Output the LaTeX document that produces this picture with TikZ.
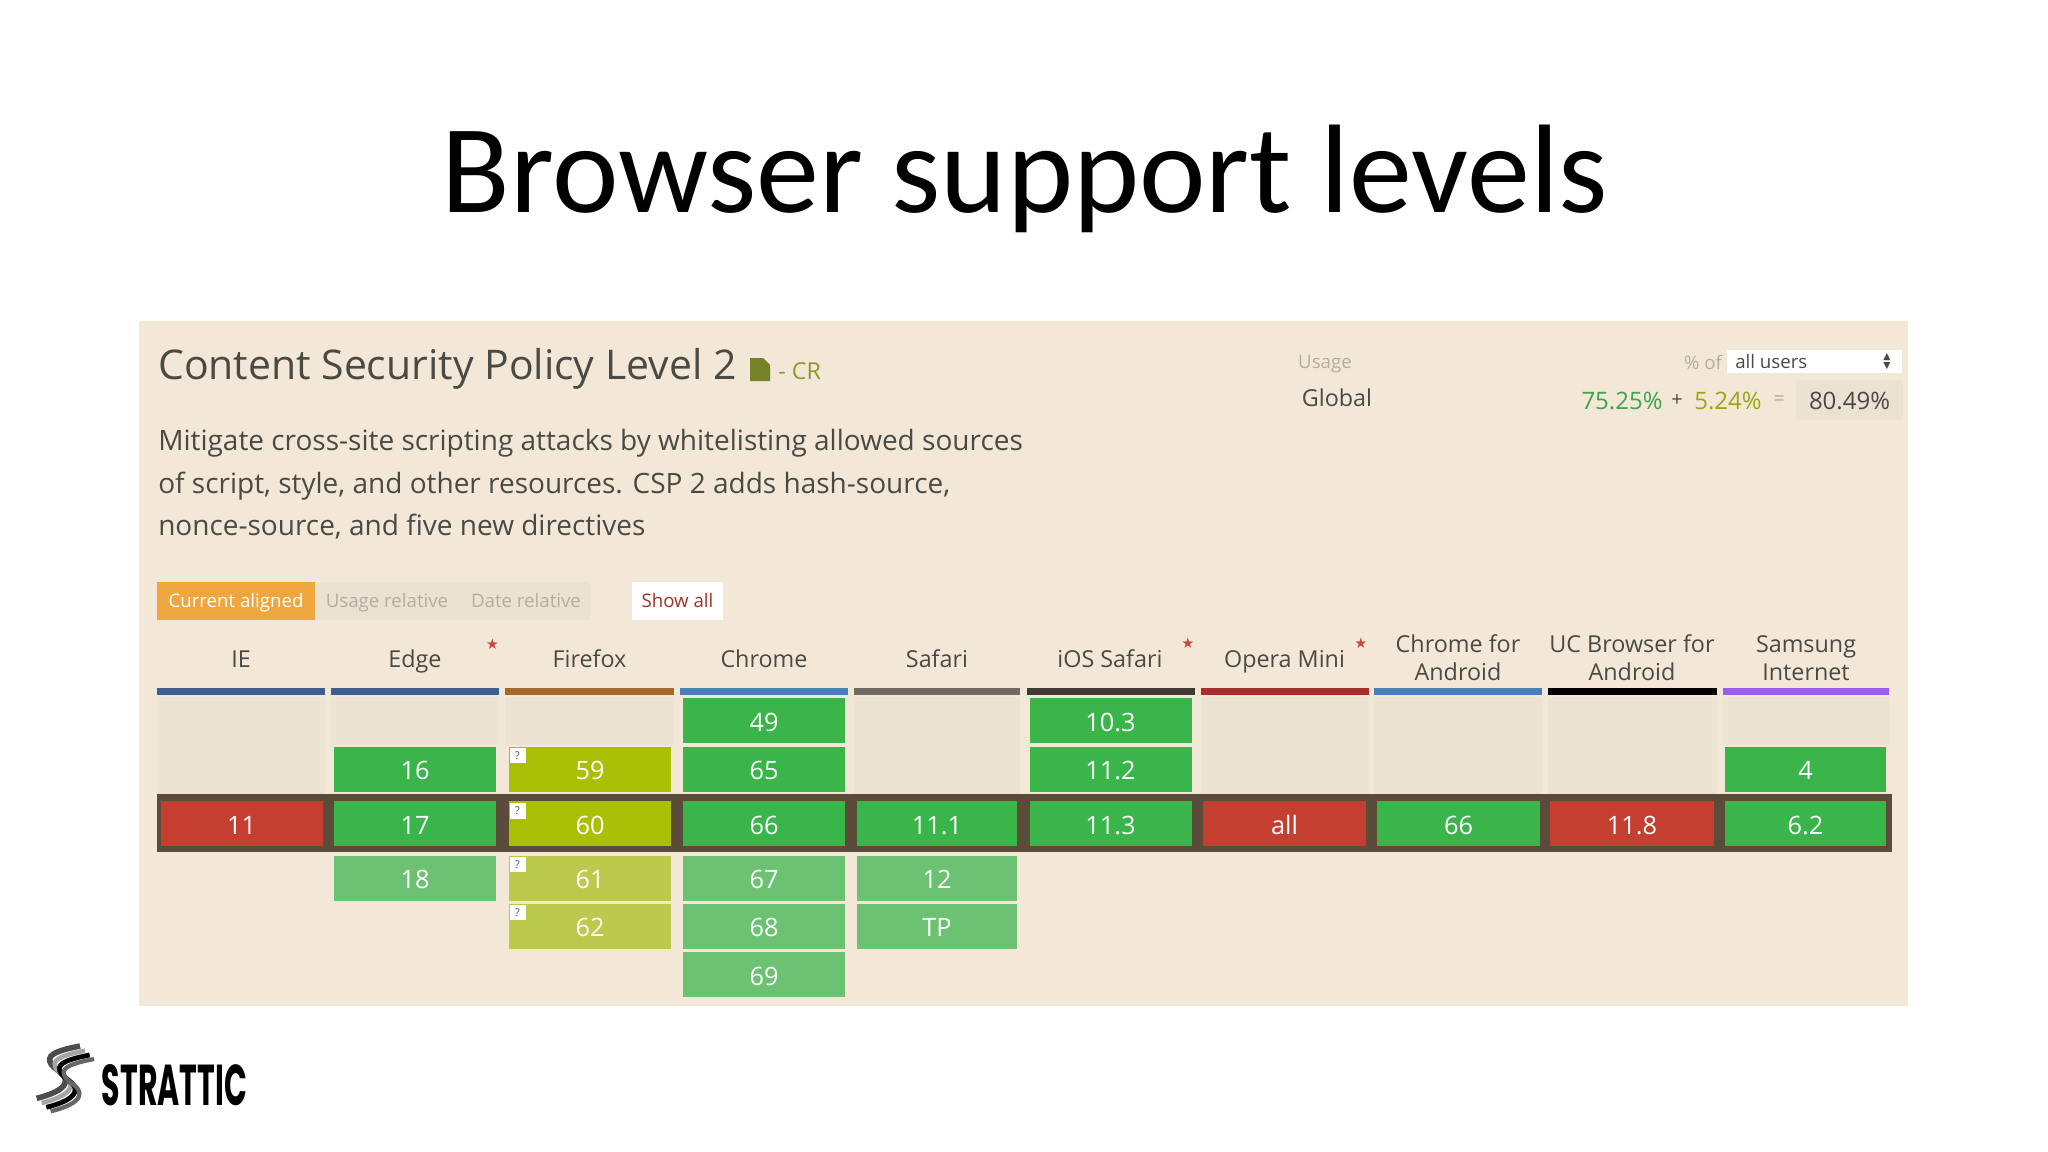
\documentclass[tikz,border=0pt]{standalone}
\usepackage{fontspec}
\setmainfont{Open Sans}
\newfontfamily\titlefont{Carlito}
\newfontfamily\logofont{Poppins}
\newfontfamily\symfont{DejaVu Sans}
\definecolor{panel}{HTML}{F3E8D8}
\definecolor{emptycell}{HTML}{EDE3D2}
\definecolor{band}{HTML}{5B4B3B}
\definecolor{yes}{HTML}{39B54A}
\definecolor{yeslight}{HTML}{6CC272}
\definecolor{part}{HTML}{A9C006}
\definecolor{partlight}{HTML}{BBCA4C}
\definecolor{nope}{HTML}{C53F30}
\definecolor{ink}{HTML}{4A4A44}
\definecolor{soft}{HTML}{B3ADA2}
\definecolor{orangebtn}{HTML}{EFA63F}
\definecolor{btnbg}{HTML}{EBE2D2}
\definecolor{star}{HTML}{C9493F}
\definecolor{crgreen}{HTML}{8A9A2E}
\definecolor{barie}{HTML}{3C5F8E}
\definecolor{barff}{HTML}{A5672A}
\definecolor{barch}{HTML}{4A7DBB}
\definecolor{barsf}{HTML}{6F6B62}
\definecolor{barios}{HTML}{3F3B34}
\definecolor{barop}{HTML}{A82E2E}
\definecolor{barsa}{HTML}{9A5CF0}
\tikzset{
  x=0.75pt,y=-0.75pt,
  box/.style={draw=none,inner sep=0pt,outer sep=0pt,minimum width=0.75pt*#1,minimum height=33.75pt,text=white,text height=16pt,text depth=0pt,font=\fontsize{19}{19}\selectfont},
  gapcell/.style={draw=none,fill=emptycell,inner sep=0pt,outer sep=0pt,minimum width=0.75pt*#1},
  bar/.style={draw=none,inner sep=0pt,outer sep=0pt,minimum height=5.25pt,minimum width=0.75pt*#1},
  note/.style={fill=white,inner sep=0pt,minimum width=12pt,minimum height=11.5pt,text=ink,font=\fontsize{8}{8}\selectfont},
  head/.style={inner sep=0pt,align=center,text=ink,font=\fontsize{17.5}{21}\selectfont},
  headone/.style={inner sep=0pt,anchor=base,text=ink,font=\fontsize{17.5}{21}\selectfont},
  starmark/.style={inner sep=0pt,text=star,font=\symfont\fontsize{11}{11}\selectfont},
  plain/.style={inner sep=0pt,anchor=base west},
  btn/.style={inner sep=0pt,outer sep=0pt,minimum height=29pt,text height=13pt,text depth=3pt,font=\fontsize{14}{14}\selectfont},
}
\newcommand{\sbase}{(240,78) .. controls (190,88) and (140,100) .. (150,125) .. controls (158,150) and (205,160) .. (195,190) .. controls (188,210) and (150,225) .. (110,235)}
\begin{document}
\begin{tikzpicture}
\useasboundingbox (0,0) rectangle (2048,1152);
\fill[white] (0,0) rectangle (2048,1152);
\node[inner sep=0pt,anchor=base,text=black,font=\titlefont\fontsize{94.5}{94}\selectfont] (title) at (1025,212.5) {Browser support levels};
\fill[panel] (139,321) rectangle (1908,1006);

\node[plain,text=ink,font=\fontsize{30.7}{30}\selectfont] (h1) at (158,379) {Content Security Policy Level 2};
\fill[crgreen!85!black] (750,358) -- (763,358) -- (770,365) -- (770,381) -- (750,381) -- cycle;
\node[plain,text=crgreen,font=\fontsize{17.5}{17}\selectfont] (cr) at (778,379) {- CR};
\node[plain,text=ink,font=\fontsize{21}{21}\selectfont] (d1) at (158,450) {Mitigate cross-site scripting attacks by whitelisting allowed sources};
\node[plain,text=ink,font=\fontsize{21}{21}\selectfont] (d2) at (158,493) {of script, style, and other resources. CSP 2 adds hash-source,};
\node[plain,text=ink,font=\fontsize{21}{21}\selectfont] (d3) at (158,535) {nonce-source, and five new directives};

\node[btn,fill=btnbg,minimum width=206.6pt] (btnbg) at (452.75,601) {};
\node[btn,fill=orangebtn,text=white,minimum width=118pt] (b1) at (236,601) {Current aligned};
\node[btn,text=soft] (b2) at (387,601) {Usage relative};
\node[btn,text=soft] (b3) at (526,601) {Date relative};
\node[btn,fill=white,text=nope!80!black,minimum width=68pt] (b4) at (677.5,601) {Show all};

\node[inner sep=0pt,text=soft,font=\fontsize{14}{14}\selectfont] (usage) at (1325,364) {Usage};
\node[inner sep=0pt,text=ink,font=\fontsize{17.5}{17}\selectfont] (global) at (1337,398) {Global};
\node[inner sep=0pt,text=soft,font=\fontsize{14}{14}\selectfont] (pof) at (1703,362) {\% of};
\node[inner sep=0pt,fill=white,minimum width=131pt,minimum height=17.5pt] (sel) at (1814.5,361.5) {};
\node[plain,text=ink,font=\fontsize{14}{14}\selectfont] (selt) at (1735,368) {all users};
\node[inner sep=0pt,text=ink,font=\symfont\fontsize{7}{7}\selectfont] (selu) at (1887,357) {▲};
\node[inner sep=0pt,text=ink,font=\symfont\fontsize{7}{7}\selectfont] (seld) at (1887,366) {▼};
\node[inner sep=0pt,fill=btnbg,minimum width=80pt,minimum height=30pt] (totbox) at (1849.5,400) {};
\node[inner sep=0pt,text=yes!85!ink,font=\fontsize{18}{18}\selectfont] (p1) at (1622,401) {75.25\%};
\node[inner sep=0pt,text=ink,font=\fontsize{15}{15}\selectfont] (plus) at (1677,401) {+};
\node[inner sep=0pt,text=part!80!ink,font=\fontsize{18}{18}\selectfont] (p2) at (1728,401) {5.24\%};
\node[inner sep=0pt,text=soft,font=\fontsize{15}{15}\selectfont] (eq) at (1779,401) {=};
\node[inner sep=0pt,text=ink,font=\fontsize{18}{18}\selectfont] (tot) at (1849.5,401) {80.49\%};

% column headers
\node[headone] (hie) at (241,667) {IE};
\node[headone] (hedge) at (415,667) {Edge};
\node[headone] (hff) at (589.5,667) {Firefox};
\node[headone] (hch) at (764,667) {Chrome};
\node[headone] (hsf) at (937,667) {Safari};
\node[headone] (hios) at (1110,667) {iOS Safari};
\node[headone] (hop) at (1284.5,667) {Opera Mini};
\node[head] (hca) at (1458,658) {Chrome for\\Android};
\node[head] (huc) at (1632,658) {UC Browser for\\Android};
\node[head] (hsa) at (1806,658) {Samsung\\Internet};
\node[starmark] (s1) at (492.5,644) {★};
\node[starmark] (s2) at (1188,643) {★};
\node[starmark] (s3) at (1361,643) {★};

% coloured bars
\node[bar=168,fill=barie] (bie) at (241,691.5) {};
\node[bar=168,fill=barie] (bedge) at (415,691.5) {};
\node[bar=169,fill=barff] (bff) at (589.5,691.5) {};
\node[bar=168,fill=barch] (bch) at (764,691.5) {};
\node[bar=166,fill=barsf] (bsf) at (937,691.5) {};
\node[bar=168,fill=barios] (bios) at (1110.5,691.5) {};
\node[bar=168,fill=barop] (bop) at (1284.5,691.5) {};
\node[bar=168,fill=barch] (bca) at (1458,691.5) {};
\node[bar=169,fill=black] (buc) at (1632.5,691.5) {};
\node[bar=166,fill=barsa] (bsa) at (1806,691.5) {};

% untracked upper cells
\node[gapcell=168,minimum height=72.75pt] (gie) at (241,745) {};
\node[gapcell=168,minimum height=36pt] (gedge) at (415,721) {};
\node[gapcell=169,minimum height=36pt] (gff) at (589.5,721) {};
\node[gapcell=166,minimum height=72.75pt] (gsf) at (937,745) {};
\node[gapcell=168,minimum height=72.75pt] (gop) at (1284.5,745) {};
\node[gapcell=168,minimum height=72.75pt] (gca) at (1458,745) {};
\node[gapcell=169,minimum height=72.75pt] (guc) at (1632.5,745) {};
\node[gapcell=166,minimum height=36pt] (gsa) at (1806,721) {};

% current row band
\node[draw=none,fill=band,inner sep=0pt,outer sep=0pt,minimum width=1301pt,minimum height=43.5pt] (curband) at (1024.5,823) {};

% version cells
\node[box=162,fill=nope] (ie11) at (241.5,823.5) {11};
\node[box=162,fill=yes] (e16) at (415,769) {16};
\node[box=162,fill=yes] (e17) at (415,823.5) {17};
\node[box=162,fill=yeslight] (e18) at (415,878) {18};
\node[box=162,fill=part] (f59) at (590,769) {59};
\node[box=162,fill=part] (f60) at (590,823.5) {60};
\node[box=162,fill=partlight] (f61) at (590,878) {61};
\node[box=162,fill=partlight] (f62) at (590,926) {62};
\node[box=162,fill=yes] (c49) at (764,720.5) {49};
\node[box=162,fill=yes] (c65) at (764,769) {65};
\node[box=162,fill=yes] (c66) at (764,823.5) {66};
\node[box=162,fill=yeslight] (c67) at (764,878) {67};
\node[box=162,fill=yeslight] (c68) at (764,926) {68};
\node[box=162,fill=yeslight] (c69) at (764,974.5) {69};
\node[box=160,fill=yes] (s111) at (937,823.5) {11.1};
\node[box=160,fill=yeslight] (s12) at (937,878) {12};
\node[box=160,fill=yeslight] (stp) at (937,926) {TP};
\node[box=162,fill=yes] (i103) at (1110.5,720.5) {10.3};
\node[box=162,fill=yes] (i112) at (1110.5,769) {11.2};
\node[box=162,fill=yes] (i113) at (1110.5,823.5) {11.3};
\node[box=163,fill=nope] (oall) at (1284.5,823.5) {all};
\node[box=163,fill=yes] (ca66) at (1458.5,823.5) {66};
\node[box=164,fill=nope] (uc118) at (1632,823.5) {11.8};
\node[box=161,fill=yes] (sa4) at (1805.5,769) {4};
\node[box=161,fill=yes] (sa62) at (1805.5,823.5) {6.2};

% note flags
\node[note] (n59) at (517.5,755.5) {?};
\node[note] (n60) at (517.5,811) {?};
\node[note] (n61) at (517.5,864.5) {?};
\node[note] (n62) at (517.5,912.5) {?};

% logo
\begin{scope}[shift={(0,1020)},x=0.25pt,y=-0.25pt]
  \draw[color=black!70,line width=4.2pt] \sbase;
  \draw[shift={(15,14)},color=black!35,line width=3.4pt] \sbase;
  \draw[shift={(29,27)},color=black,line width=3.6pt] \sbase;
  \draw[shift={(42,39)},color=black!60,line width=3.2pt] \sbase;
\end{scope}
\node[inner sep=0pt,text=black] (logo) at (174.5,1085.5) {\resizebox{108.75pt}{30.75pt}{\logofont\bfseries STRATTIC}};
\end{tikzpicture}
\end{document}
